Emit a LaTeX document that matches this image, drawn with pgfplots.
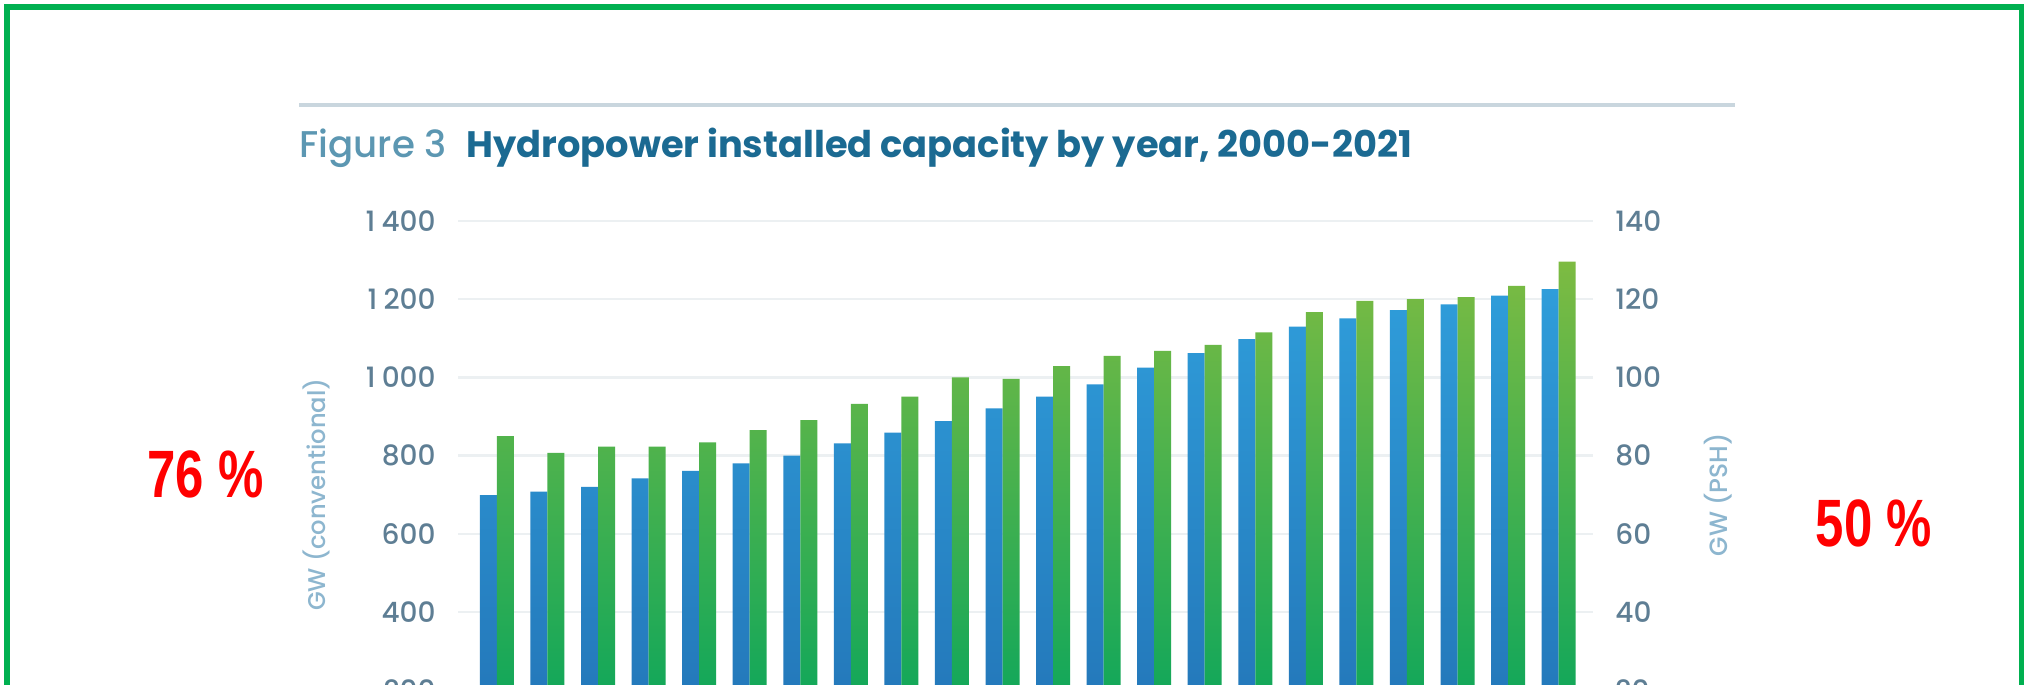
\documentclass[border=0pt]{standalone}
\usepackage{graphicx}
\usepackage{pgfplots}
\pgfplotsset{compat=1.18}
\usepackage{pgfplotstable}
\usepackage{fontspec}
\setmainfont{Poppins}
\newfontfamily\popmed{Poppins Medium}
\newfontfamily\redfont{Liberation Sans}
\definecolor{frameGreen}{HTML}{00B050}
\definecolor{ruleGray}{HTML}{C9D6DE}
\definecolor{figGray}{HTML}{5C97B2}
\definecolor{titleBlue}{HTML}{1B6A92}
\definecolor{tickCol}{HTML}{5E7E94}
\definecolor{labCol}{HTML}{8DB6CF}
\definecolor{gridCol}{HTML}{ECF0F2}
\definecolor{blueTop}{HTML}{2F9DDA}
\definecolor{blueBot}{HTML}{2272B5}
\definecolor{greenTop}{HTML}{7DBB42}
\definecolor{greenBot}{HTML}{00A45E}

% year index, conventional (GW), pumped storage hydropower (GW)
\pgfplotstableread{
x year conv psh
0  2000 699  85.0
1  2001 708  80.7
2  2002 720  82.3
3  2003 742  82.3
4  2004 761  83.4
5  2005 780  86.5
6  2006 800  89.1
7  2007 831  93.2
8  2008 859  95.1
9  2009 888  100.0
10 2010 921  99.6
11 2011 951  102.9
12 2012 982  105.5
13 2013 1025 106.8
14 2014 1062 108.3
15 2015 1098 111.5
16 2016 1130 116.7
17 2017 1151 119.6
18 2018 1172 120.0
19 2019 1187 120.5
20 2020 1209 123.4
21 2021 1226 129.6
}\hydrodata

\begin{document}
\begin{tikzpicture}[x=0.5pt,y=0.5pt]
\useasboundingbox (0,0) rectangle (2025,685);
\clip (0,0) rectangle (2025,685);
\fill[white] (0,0) rectangle (2025,685);

% title rule and title
\draw[ruleGray, line width=2pt] (299,579.5) -- (1735,579.5);
\node[anchor=base west, inner sep=0pt, text=figGray, font=\popmed\fontsize{18.6}{20}\selectfont] at (299,527) {Figure 3};
\node[anchor=base west, inner sep=0pt, text=titleBlue, font=\fontsize{18.4}{20}\selectfont\bfseries] at (466,527) {Hydropower installed capacity by year, 2000-2021};

\begin{axis}[
  at={(229pt,-41.7pt)}, anchor=south west,
  scale only axis, width=567.5pt, height=273.7pt,
  xmin=-0.77, xmax=21.68, ymin=0, ymax=1400,
  axis line style={draw=none}, xtick=\empty,
  ytick={0,200,...,1400},
  major tick length=0pt,
  ymajorgrids, grid style={gridCol, line width=1.2pt},
  yticklabel style={font=\popmed\fontsize{14}{15}\selectfont, text=tickCol, inner sep=0pt, xshift=-11pt,
    /pgf/number format/assume math mode=true,
    /pgf/number format/1000 sep={\hspace{0.22em}}},
  ylabel={GW (conventional)},
  every axis y label/.style={at={(axis description cs:-0.1251,0.5)}, anchor=center, rotate=90, font=\popmed\fontsize{12.1}{13}\selectfont, text=labCol},
]
\addplot[ybar, bar width=8.5pt, bar shift=-4.25pt, draw=none, top color=blueTop, bottom color=blueBot] table[x=x, y=conv] {\hydrodata};
\end{axis}

\begin{axis}[
  at={(229pt,-41.7pt)}, anchor=south west,
  scale only axis, width=567.5pt, height=273.7pt,
  xmin=-0.77, xmax=21.68, ymin=0, ymax=140,
  axis line style={draw=none}, xtick=\empty,
  ytick={0,20,...,140},
  yticklabel pos=right,
  major tick length=0pt,
  yticklabel style={font=\popmed\fontsize{14}{15}\selectfont, text=tickCol, inner sep=0pt, xshift=11pt,
    /pgf/number format/assume math mode=true},
  ylabel={GW (PSH)},
  every axis y label/.style={at={(axis description cs:1.110,0.5)}, anchor=center, rotate=90, font=\popmed\fontsize{12.5}{13}\selectfont, text=labCol},
]
\addplot[ybar, bar width=8.5pt, bar shift=4.25pt, draw=none, top color=greenTop, bottom color=greenBot] table[x=x, y=psh] {\hydrodata};
\end{axis}

% overlay annotations
\node[text=red, font=\redfont\bfseries\fontsize{33.5}{36}\selectfont, inner sep=0pt] at (205.5,211) {\scalebox{0.76}[1]{76 \%}};
\node[text=red, font=\redfont\bfseries\fontsize{33.5}{36}\selectfont, inner sep=0pt] at (1874,162) {\scalebox{0.76}[1]{50 \%}};

% green frame (bottom edge cropped away)
\draw[frameGreen, line width=2.6pt] (7,-20) -- (7,678) -- (2021.5,678) -- (2021.5,-20);
\end{tikzpicture}
\end{document}
